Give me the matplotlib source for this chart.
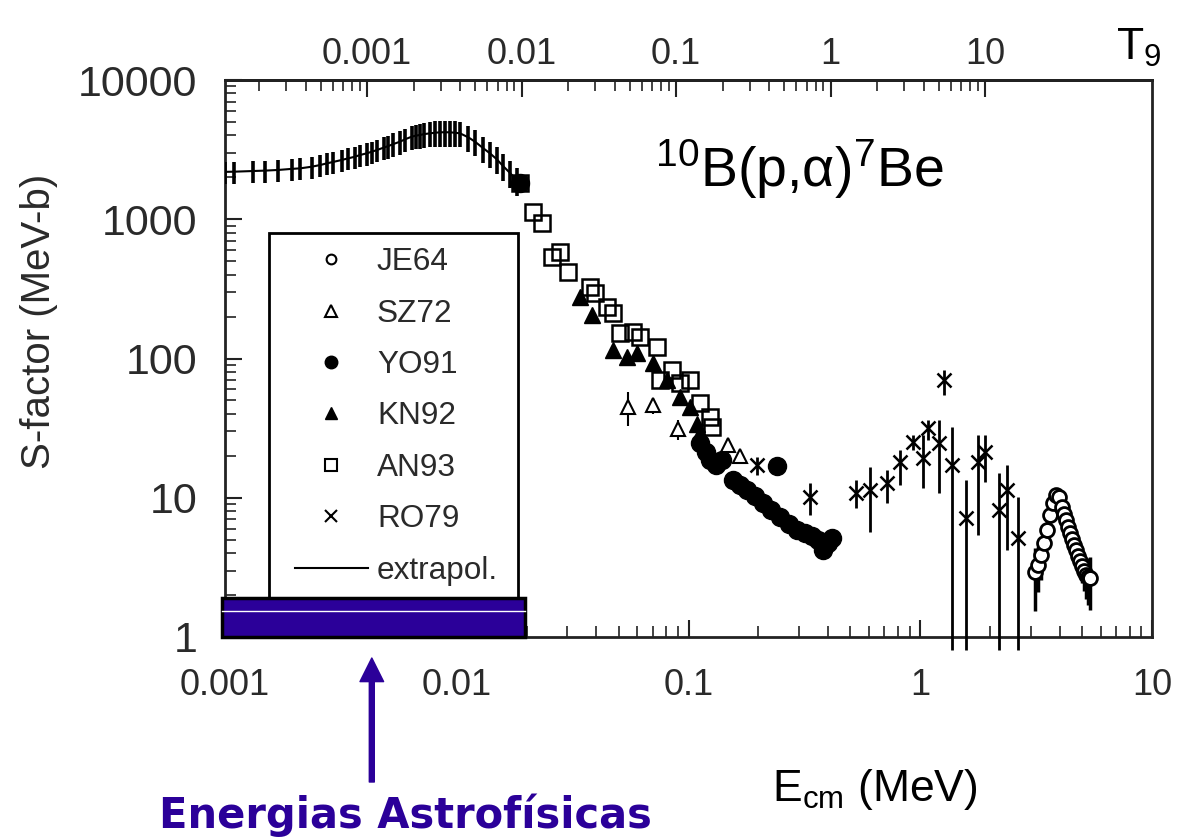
import numpy as np
import matplotlib.pyplot as plt
from matplotlib.lines import Line2D
from matplotlib.patches import Rectangle
from matplotlib.ticker import FixedLocator, FixedFormatter, NullFormatter

plt.rcParams['font.family'] = ['Liberation Sans', 'DejaVu Sans']
plt.rcParams['mathtext.fontset'] = 'custom'
plt.rcParams['mathtext.rm'] = 'Liberation Sans'
plt.rcParams['mathtext.it'] = 'Liberation Sans'

# extrapolated S-factor (with error bars)
ext_E = [0.00100, 0.00109, 0.00132, 0.00149, 0.00170, 0.00194, 0.00211, 0.00237, 0.00257, 0.00275,
         0.00293, 0.00319, 0.00341, 0.00364, 0.00383, 0.00409, 0.00430, 0.00452, 0.00483, 0.00507,
         0.00533, 0.00569, 0.00598, 0.00640, 0.00665, 0.00694, 0.00725, 0.00767, 0.00805, 0.00847,
         0.00890, 0.00935, 0.00985, 0.01033, 0.01122, 0.01199, 0.01303, 0.01391, 0.01487, 0.01588,
         0.01698, 0.01815]
ext_S = [2190, 2195, 2220, 2235, 2260, 2300, 2320, 2385, 2450, 2520,
         2580, 2665, 2740, 2815, 2895, 2975, 3055, 3140, 3265, 3355,
         3470, 3605, 3750, 3920, 3980, 4030, 4090, 4140, 4180, 4210,
         4215, 4210, 4180, 4140, 3875, 3605, 3230, 2975, 2700, 2400,
         2150, 1900]
ext_dS = [390, 390, 400, 400, 410, 410, 420, 430, 440, 450,
          470, 480, 500, 510, 530, 550, 560, 580, 610, 630,
          660, 690, 730, 780, 800, 820, 840, 860, 880, 900,
          900, 900, 880, 860, 820, 760, 690, 640, 580, 520,
          470, 420]

# AN93
an_E = [0.01875, 0.02133, 0.02333, 0.02576, 0.02791, 0.03021, 0.03758, 0.03951, 0.04452, 0.04724,
        0.05060, 0.05764, 0.06180, 0.07317, 0.07537, 0.08492, 0.09189, 0.1015, 0.1121, 0.1239, 0.1263]
an_S = [1822, 1127, 940, 536, 582, 418, 326, 295, 234, 212,
        152, 155, 143, 121, 70, 83, 67, 70, 48, 38, 32]

# KN92
kn_E = [0.03404, 0.03837, 0.04724, 0.05430, 0.06000, 0.07033, 0.08078, 0.09189, 0.1015, 0.1088, 0.1121]
kn_S = [276, 205, 115, 103, 110, 93, 70, 53, 45, 34, 29]

# SZ72
sz_E = [0.05483, 0.07033, 0.09020, 0.1479, 0.1667]
sz_S = [45, 46, 31, 24, 20]
sz_dS = [12, 6, 5, 3, 2]

# YO91
yo_E = [0.01875, 0.1121, 0.1189, 0.1239, 0.1315, 0.1396, 0.2410,
        0.1556, 0.1667, 0.1787, 0.1936, 0.2096, 0.2270, 0.2483, 0.2716, 0.2938,
        0.3183, 0.3412, 0.3622, 0.3804, 0.3999, 0.4159]
yo_S = [1822, 24.7, 21.3, 18.7, 17.2, 18.7, 16.9,
        13.4, 12.3, 11.4, 10.3, 9.2, 8.2, 7.3, 6.5, 5.9,
        5.6, 5.3, 5.0, 4.2, 4.7, 5.1]

# RO79 (value, lower and upper limit of the bar)
ro_E = [0.198, 0.334, 0.528, 0.607, 0.719, 0.819, 0.932, 1.028, 1.080, 1.205,
        1.266, 1.370, 1.574, 1.775, 1.902, 2.188, 2.366, 2.642]
ro_S = [17.2, 10.1, 10.8, 11.4, 12.8, 18.1, 25.1, 19.3, 31.7, 24.7,
        70.1, 17.2, 7.2, 18.1, 21.3, 8.2, 11.4, 5.1]
ro_lo = [14.6, 7.5, 8.4, 5.7, 9.2, 12.3, 22.0, 11.7, 26.0, 10.8,
         54.7, 0.8, 0.8, 5.4, 13.0, 0.8, 4.2, 0.8]
ro_hi = [19.6, 12.8, 13.4, 16.6, 15.8, 22.0, 28.2, 28.2, 36.2, 36.2,
         82.7, 32.2, 13.4, 28.2, 28.2, 15.1, 17.2, 10.1]

# JE64
je_E = [3.13, 3.22, 3.32, 3.42, 3.52, 3.63, 3.74, 3.85, 3.97, 4.09, 4.17, 4.26,
        4.35, 4.43, 4.52, 4.61, 4.70, 4.80, 4.90, 4.99, 5.09, 5.19, 5.30, 5.41]
je_S = [2.93, 3.29, 3.88, 4.73, 5.87, 7.52, 9.17, 10.5, 10.1, 8.58, 7.70, 6.92,
        6.20, 5.58, 5.05, 4.58, 4.20, 3.82, 3.50, 3.24, 3.00, 2.79, 2.70, 2.65]
je_dS = [1.4, 1.2, 1.3, 1.1, 1.0, 0.9, 0.9, 1.0, 1.0, 0.9, 0.8, 0.8,
         0.75, 0.7, 0.7, 0.7, 0.7, 0.7, 0.75, 0.8, 0.85, 0.9, 1.0, 1.1]

x_ticks = [0.001, 0.01, 0.1, 1, 10]
x_labels = ['0.001', '0.01', '0.1', '1', '10']
y_ticks = [1, 10, 100, 1000, 10000]
y_labels = ['1', '10', '100', '1000', '10000']
t9_ticks = [0.001, 0.01, 0.1, 1, 10]
t9_labels = ['0.001', '0.01', '0.1', '1', '10']
gamow_a = 0.41        # E0 = a * T9^(2/3)

astro_E = [0.00097, 0.0197]
astro_S = [1.0, 1.905]
arrow_E = 0.0043

azul = '#2b0099'
cinza = '#2a2a2a'

fig = plt.figure(figsize=(11.87, 8.4), dpi=100)
ax = fig.add_axes([225/1187, 1 - 637/840, 927/1187, 557/840])
ax.set_xscale('log')
ax.set_yscale('log')
ax.set_xlim(0.001, 10)
ax.set_ylim(1, 10000)

ax.errorbar(ext_E, ext_S, yerr=ext_dS, fmt='-', color='k', lw=1.5, elinewidth=2.6, capsize=0, zorder=3)
ax.plot(an_E, an_S, ls='none', marker='s', ms=11, mfc='none', mec='k', mew=1.8, zorder=3)
ax.plot(kn_E, kn_S, ls='none', marker='^', ms=11, color='k', zorder=3)
ax.errorbar(sz_E, sz_S, yerr=sz_dS, fmt='^', ms=10, mfc='white', mec='k', mew=1.5,
            ecolor='k', elinewidth=1.5, capsize=0, zorder=3)
ax.plot(yo_E, yo_S, ls='none', marker='o', ms=13, color='k', zorder=3)
ro_err = [np.array(ro_S) - np.array(ro_lo), np.array(ro_hi) - np.array(ro_S)]
ax.errorbar(ro_E, ro_S, yerr=ro_err, fmt='x', ms=10, mew=1.8, color='k', ecolor='k',
            elinewidth=2, capsize=0, zorder=3, clip_on=False)
ax.errorbar(je_E, je_S, yerr=je_dS, fmt='o', ms=10, mfc='white', mec='k', mew=2,
            ecolor='k', elinewidth=2.5, capsize=0, zorder=3)

# eixos
for s in ax.spines.values():
    s.set_linewidth(2)
    s.set_color('#222222')
ax.xaxis.set_major_locator(FixedLocator(x_ticks))
ax.xaxis.set_major_formatter(FixedFormatter(x_labels))
ax.xaxis.set_minor_locator(FixedLocator([m * 10.0**k for k in range(-3, 1) for m in range(2, 10)]))
ax.xaxis.set_minor_formatter(NullFormatter())
ax.yaxis.set_major_locator(FixedLocator(y_ticks))
ax.yaxis.set_major_formatter(FixedFormatter(y_labels))
ax.yaxis.set_minor_locator(FixedLocator([m * 10.0**k for k in range(0, 4) for m in range(2, 10)]))
ax.yaxis.set_minor_formatter(NullFormatter())
ax.tick_params(which='both', direction='in', top=False, right=False, colors='#222222')
ax.tick_params(which='major', length=12, width=1.5)
ax.tick_params(which='minor', length=8, width=1.2)
ax.tick_params(axis='x', labelsize=26, pad=22, labelcolor=cinza)
ax.tick_params(axis='y', labelsize=31, pad=20, labelcolor=cinza)

ax.set_ylabel('S-factor (MeV-b)', fontsize=29, color=cinza)
ax.yaxis.set_label_coords(-0.180, 0.566)
fig.text(875/1187, 1 - 790/840, r'E$_{\rm cm}$ (MeV)', fontsize=32, color='k',
         ha='center', va='center')

# escala de temperatura T9 no topo
secax = ax.secondary_xaxis('top', functions=(lambda e: (np.abs(e) / gamow_a) ** 1.5,
                                             lambda t: gamow_a * np.abs(t) ** (2 / 3)))
secax.xaxis.set_major_locator(FixedLocator(t9_ticks))
secax.xaxis.set_major_formatter(FixedFormatter(t9_labels))
secax.xaxis.set_minor_locator(FixedLocator([m * 10.0**k for k in range(-4, 1) for m in range(2, 10)]))
secax.xaxis.set_minor_formatter(NullFormatter())
secax.tick_params(which='both', direction='in', colors='#222222', labelcolor=cinza)
secax.tick_params(which='major', length=12, width=1.5, labelsize=26, pad=6)
secax.tick_params(which='minor', length=8, width=1.2)
secax.spines['top'].set_linewidth(2)
fig.text(1139/1187, 1 - 48/840, r'T$_9$', fontsize=32, color='k', ha='center', va='center')

ax.text(0.62, 0.84, r'$^{10}$B(p,α)$^{7}$Be', transform=ax.transAxes,
        fontsize=40, ha='center', va='center', color='k')

# legenda
ax.add_patch(Rectangle((0.0475, 0.0), 0.2685, 0.726, transform=ax.transAxes,
                       fill=True, fc='white', ec='k', lw=2, zorder=4))
handles = [
    Line2D([], [], ls='none', marker='o', ms=7, mfc='white', mec='k', mew=1.5, label='JE64'),
    Line2D([], [], ls='none', marker='^', ms=8, mfc='white', mec='k', mew=1.5, label='SZ72'),
    Line2D([], [], ls='none', marker='o', ms=9, color='k', label='YO91'),
    Line2D([], [], ls='none', marker='^', ms=9, color='k', label='KN92'),
    Line2D([], [], ls='none', marker='s', ms=8, mfc='white', mec='k', mew=1.5, label='AN93'),
    Line2D([], [], ls='none', marker='x', ms=8, mew=1.5, color='k', label='RO79'),
    Line2D([], [], ls='-', lw=1.5, color='k', label='extrapol.'),
]
leg = ax.legend(handles=handles, loc='upper left', bbox_to_anchor=(0.0755, 0.70),
                frameon=False, fontsize=22.7, handlelength=2.3, handletextpad=0.3,
                labelspacing=0.68, borderpad=0, borderaxespad=0)
leg.set_zorder(5)
for t in leg.get_texts():
    t.set_color(cinza)

# faixa de energias astrofisicas
ax.add_patch(Rectangle((astro_E[0], astro_S[0]), astro_E[1] - astro_E[0], astro_S[1] - astro_S[0],
                       fc=azul, ec='k', lw=2.5, zorder=10, clip_on=False))
ax.plot(astro_E, [1.54, 1.54], color='white', lw=1, zorder=11, clip_on=False)

ax.annotate('', xy=(arrow_E, 1 - 658/840), xytext=(arrow_E, 1 - 782/840),
            xycoords=('data', 'figure fraction'), textcoords=('data', 'figure fraction'),
            arrowprops=dict(width=3.6, headwidth=17, headlength=17, color=azul))
fig.text(405/1187, 1 - 815/840, 'Energias Astrofísicas', fontsize=30, fontweight='bold',
         color=azul, ha='center', va='center', family='DejaVu Sans')

plt.savefig('out.png', dpi=100)
